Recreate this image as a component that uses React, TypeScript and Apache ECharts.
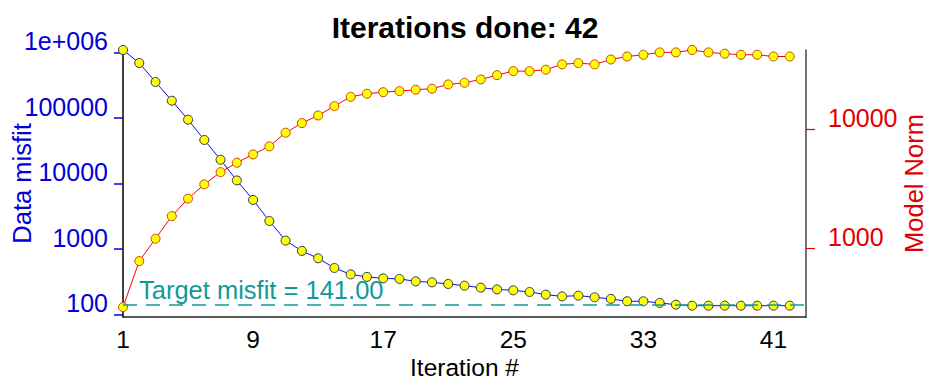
import React, { useEffect, useRef } from "react";
import * as echarts from "echarts";

const iterations = Array.from({ length: 42 }, (_, i) => i + 1);

const dataMisfit = [
  1100000, 697000, 357000, 185000, 94800, 46500, 23200, 11200, 5640, 2690,
  1350, 940, 725, 516, 412, 377, 358, 351, 322, 311,
  294, 277, 258, 243, 235, 222, 202, 190, 195, 184,
  174, 160, 160, 151, 142, 137, 137, 137, 137, 137,
  137, 137,
];

const modelNorm = [
  321, 782, 1206, 1868, 2620, 3450, 4375, 5250, 6160, 7200,
  9380, 11300, 13100, 15700, 18800, 19950, 20560, 20980, 21560, 21990,
  23880, 24660, 26300, 28600, 30900, 30900, 31750, 35200, 36100, 35200,
  38700, 41000, 42400, 44400, 44400, 46500, 44400, 43300, 42400, 42400,
  41000, 41000,
];

const xTickLabels = [1, 9, 17, 25, 33, 41];
const targetMisfit = 141;
const titleText = "Iterations done: 42";

const FONT = "'Liberation Sans', Arial, sans-serif";
const BLUE = "#0000dd";
const RED = "#e00000";
const TEAL = "#119a9a";

function isDecade(v: number) {
  const l = Math.log10(v);
  return Math.abs(l - Math.round(l)) < 1e-6;
}

export default function App() {
  const ref = useRef<HTMLDivElement>(null);

  useEffect(() => {
    if (!ref.current) return;
    const chart = echarts.init(ref.current, null, { renderer: "svg" });
    const misfitPairs = iterations.map((x, i) => [x, dataMisfit[i]]);
    const normPairs = iterations.map((x, i) => [x, modelNorm[i]]);

    chart.setOption({
      animation: false,
      backgroundColor: "#ffffff",
      title: {
        text: titleText,
        left: "center",
        top: 7,
        textStyle: { fontFamily: FONT, fontSize: 30, fontWeight: "bold", color: "#000" },
      },
      grid: { left: 123, right: 124, top: 50, bottom: 66, containLabel: false, outerBoundsMode: "none" },
      xAxis: {
        type: "value",
        min: 1,
        max: 43,
        name: "Iteration #",
        nameLocation: "middle",
        nameGap: 39,
        nameMoveOverlap: false,
        nameTextStyle: { fontFamily: FONT, fontSize: 24.5, color: "#000", lineHeight: 23 },
        axisLine: { show: true, onZero: false, lineStyle: { color: "#222", width: 1.5 } },
        axisTick: { show: false },
        splitLine: { show: false },
        axisLabel: {
          customValues: xTickLabels,
          fontFamily: FONT,
          fontSize: 24.5,
          lineHeight: 22,
          color: "#000",
          margin: 11,
        },
      },
      yAxis: [
        {
          type: "log",
          logBase: 10,
          min: 92,
          max: 1100000,
          position: "left",
          name: "Data misfit",
          nameLocation: "middle",
          nameGap: 90,
          nameMoveOverlap: false,
          nameTextStyle: { fontFamily: FONT, fontSize: 25.5, color: BLUE, lineHeight: 22 },
          axisLine: { show: true, lineStyle: { color: "#000", width: 1.5 } },
          axisTick: { show: true, length: 9, lineStyle: { color: BLUE, width: 1.5 } },
          splitLine: { show: false },
          axisLabel: {
            showMinLabel: false,
            showMaxLabel: false,
            fontFamily: FONT,
            fontSize: 25,
            color: BLUE,
            margin: 15,
            verticalAlign: "bottom",
            lineHeight: 23,
            formatter: (v: number) => {
              if (!isDecade(v)) return "";
              const r = Math.round(v);
              return r === 1000000 ? "1e+006" : String(r);
            },
          },
        },
        {
          type: "log",
          logBase: 10,
          min: 265,
          max: 46500,
          position: "right",
          name: "Model Norm",
          nameLocation: "middle",
          nameGap: 97,
          nameMoveOverlap: false,
          nameTextStyle: { fontFamily: FONT, fontSize: 25.5, color: RED, lineHeight: 22 },
          axisLine: { show: true, lineStyle: { color: "#444", width: 1.5 } },
          axisTick: { show: true, length: 9, lineStyle: { color: RED, width: 1.2 } },
          splitLine: { show: false },
          axisLabel: {
            showMinLabel: false,
            showMaxLabel: false,
            fontFamily: FONT,
            fontSize: 25,
            color: RED,
            margin: 22,
            verticalAlign: "bottom",
            lineHeight: 23,
            formatter: (v: number) => (isDecade(v) ? String(Math.round(v)) : ""),
          },
        },
      ],
      series: [
        {
          name: "Data misfit",
          type: "line",
          yAxisIndex: 0,
          data: misfitPairs,
          symbol: "circle",
          symbolSize: 9,
          lineStyle: { color: "#1010e0", width: 1 },
          itemStyle: { color: "#ffff00", borderColor: "#303060", borderWidth: 1 },
          z: 3,
          markLine: {
            silent: true,
            symbol: "none",
            lineStyle: { color: TEAL, type: [14, 9], width: 1.5 },
            label: {
              show: true,
              position: "insideStartTop",
              formatter: "Target misfit = 141.00",
              fontFamily: FONT,
              fontSize: 25.5,
              color: TEAL,
              distance: 2,
              padding: [0, 0, 0, 14],
            },
            data: [{ yAxis: targetMisfit }],
          },
        },
        {
          name: "Model Norm",
          type: "line",
          yAxisIndex: 1,
          data: normPairs,
          symbol: "circle",
          symbolSize: 9,
          lineStyle: { color: "#ff0000", width: 1 },
          itemStyle: { color: "#ffff00", borderColor: "#d04010", borderWidth: 1 },
          z: 2,
        },
      ],
    });

    return () => chart.dispose();
  }, []);

  return (
    <div
      ref={ref}
      style={{ position: "fixed", left: 0, top: 0, width: 930, height: 383, background: "#fff" }}
    />
  );
}
